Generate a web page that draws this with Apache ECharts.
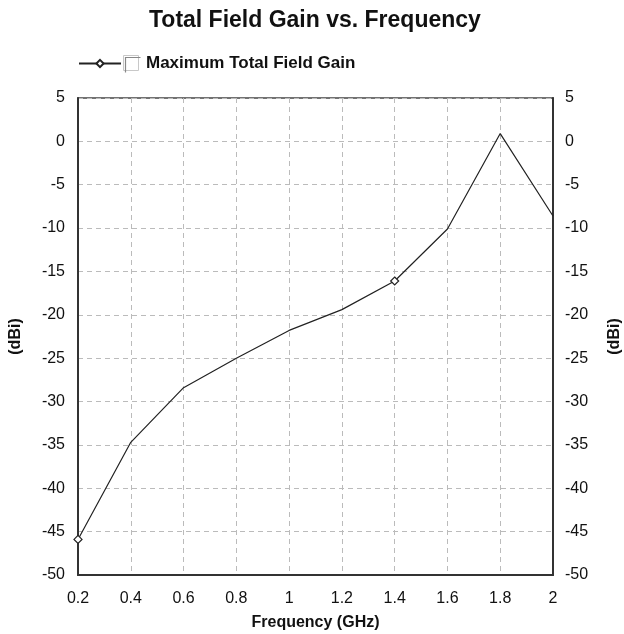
<!DOCTYPE html>
<html>
<head>
<meta charset="utf-8">
<script src="https://cdn.jsdelivr.net/npm/echarts@6/dist/echarts.min.js"></script>
<style>html,body{margin:0;padding:0;background:#fff}#c{width:624px;height:634px}</style>
</head>
<body>
<div id="c"></div>
<script>
const frequencies = [0.2, 0.4, 0.6, 0.8, 1.0, 1.2, 1.4, 1.6, 1.8, 2.0];
const gains = [-45.9, -34.7, -28.4, -25.0, -21.8, -19.4, -16.1, -10.1, 0.9, -8.6];
const markedFrequencies = [0.2, 1.4];
const seriesName = 'Maximum Total Field Gain';

const font = 'Arial, "Liberation Sans", sans-serif';
const chart = echarts.init(document.getElementById('c'));
const data = frequencies.map((f, i) => {
  const item = { value: [f, gains[i]] };
  if (!markedFrequencies.includes(f)) item.symbol = 'none';
  return item;
});
const labelStyle = { color: '#111', fontSize: 16, fontFamily: font };
const nameStyle = { fontSize: 16, fontWeight: 'bold', color: '#111', fontFamily: font };
chart.setOption({
  animation: false,
  backgroundColor: '#fff',
  title: {
    text: 'Total Field Gain vs. Frequency',
    left: 149, top: 9, padding: 0,
    textStyle: { fontSize: 23, fontWeight: 'bold', color: '#111', fontFamily: font }
  },
  legend: {
    left: 78, top: 55, padding: 0,
    itemWidth: 42, itemHeight: 9, itemGap: 0,
    textStyle: { fontSize: 17, fontWeight: 'bold', color: '#111', fontFamily: font, padding: [0, 0, 0, 20] },
    data: [{ name: seriesName }]
  },
  graphic: [{
    type: 'rect', left: 123, top: 55,
    shape: { width: 15, height: 15 },
    style: { fill: '#fff', stroke: '#c8c8c8', lineWidth: 1 }
  }, {
    type: 'polyline', left: 123, top: 55,
    shape: { points: [[0, 15], [0, 0], [15, 0]] },
    style: { fill: null, stroke: '#888', lineWidth: 1.2 }
  }],
  grid: { left: 78, right: 71, top: 98, bottom: 59, outerBoundsMode: 'none', containLabel: false, show: true, borderColor: '#444', borderWidth: 1.5, backgroundColor: '#fff' },
  xAxis: {
    type: 'value', min: 0.2, max: 2, interval: 0.2,
    name: 'Frequency (GHz)', nameLocation: 'middle', nameGap: 40,
    nameTextStyle: nameStyle,
    axisLine: { show: true, onZero: false, lineStyle: { color: '#333', width: 2 } },
    axisTick: { show: false },
    axisLabel: Object.assign({ margin: 16, formatter: v => String(Math.round(v * 10) / 10) }, labelStyle),
    splitLine: { show: true, lineStyle: { color: '#bbb', type: [5, 4], width: 1 } }
  },
  yAxis: [{
    type: 'value', min: -50, max: 5, interval: 5, position: 'left',
    name: '(dBi)', nameLocation: 'middle', nameGap: 54,
    nameTextStyle: nameStyle,
    axisLine: { show: true, onZero: false, lineStyle: { color: '#333', width: 2 } },
    axisTick: { show: false },
    axisLabel: Object.assign({ margin: 13 }, labelStyle),
    splitLine: { show: true, lineStyle: { color: '#bbb', type: [5, 4], width: 1 } }
  }, {
    type: 'value', min: -50, max: 5, interval: 5, position: 'right',
    name: '(dBi)', nameLocation: 'middle', nameGap: 54, nameRotate: 90,
    nameTextStyle: nameStyle,
    axisLine: { show: true, onZero: false, lineStyle: { color: '#333', width: 2 } },
    axisTick: { show: false },
    axisLabel: Object.assign({ margin: 12 }, labelStyle),
    splitLine: { show: false }
  }],
  series: [{
    name: seriesName,
    type: 'line',
    data: data,
    symbol: 'diamond', symbolSize: 8, showAllSymbol: true,
    lineStyle: { color: '#222', width: 1.2 },
    itemStyle: { color: '#fff', borderColor: '#222', borderWidth: 1.2 }
  }]
});
</script>
</body>
</html>
